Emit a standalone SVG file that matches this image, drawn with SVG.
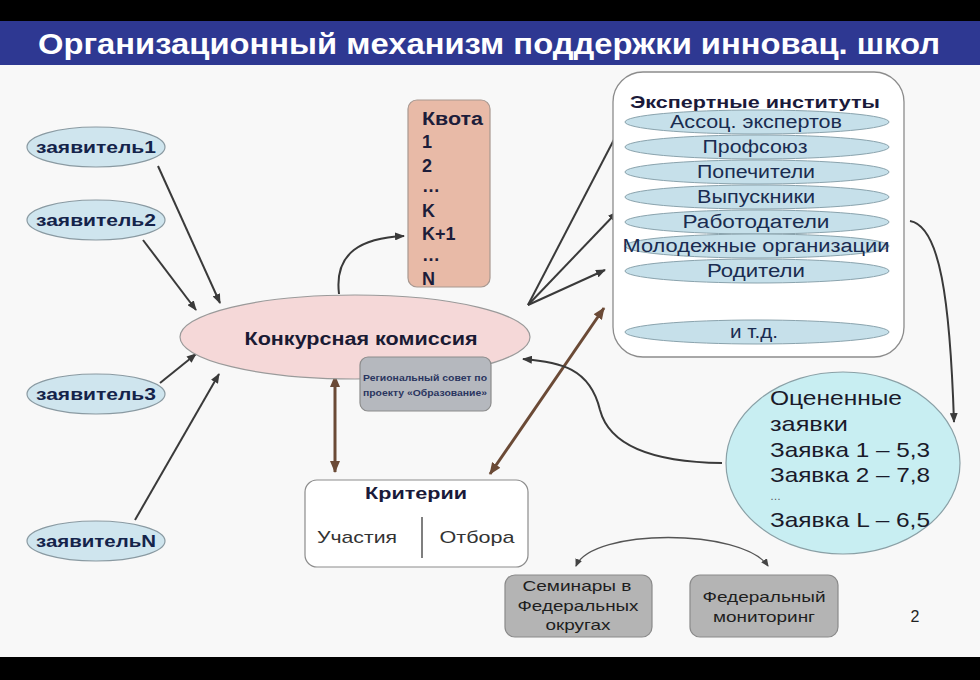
<svg xmlns="http://www.w3.org/2000/svg" width="980" height="680" viewBox="0 0 980 680">
<defs>
<marker id="ah" markerWidth="10" markerHeight="8" refX="9" refY="4" orient="auto" markerUnits="userSpaceOnUse"><path d="M0,0 L10,4 L0,8 Z" fill="#3a3a3a"/></marker>
<marker id="ahb" markerWidth="12" markerHeight="10" refX="11" refY="5" orient="auto" markerUnits="userSpaceOnUse"><path d="M0,0 L12,5 L0,10 Z" fill="#6b4a36"/></marker>
<marker id="ahbs" markerWidth="12" markerHeight="10" refX="1" refY="5" orient="auto" markerUnits="userSpaceOnUse"><path d="M12,0 L0,5 L12,10 Z" fill="#6b4a36"/></marker>
<marker id="ahs" markerWidth="8" markerHeight="7" refX="7" refY="3.5" orient="auto" markerUnits="userSpaceOnUse"><path d="M0,0 L8,3.5 L0,7 Z" fill="#444"/></marker>
<marker id="ahss" markerWidth="8" markerHeight="7" refX="1" refY="3.5" orient="auto" markerUnits="userSpaceOnUse"><path d="M8,0 L0,3.5 L8,7 Z" fill="#444"/></marker>
</defs>
<style>
text{font-family:"Liberation Sans","DejaVu Sans",Arial,sans-serif;}
.app{fill:#cfe5ee;stroke:#8a9aa2;stroke-width:1.2;}
.appt{font-size:16.5px;font-weight:bold;fill:#14234a;text-anchor:middle;}
.exp{fill:#c6e0ea;stroke:#8aa3ad;stroke-width:1;}
.expt{font-size:18px;fill:#1a2c50;text-anchor:middle;}
.conn{fill:none;stroke:#3a3a3a;stroke-width:2;}
.brown{fill:none;stroke:#6b4a36;stroke-width:3;}
.gbox{fill:#b4b4b4;stroke:#8a8a8a;stroke-width:1.2;}
.gt{font-size:15px;fill:#1e1e1e;text-anchor:middle;}
.q{font-size:18px;font-weight:bold;fill:#1d1d3a;}
.oc{font-size:21px;fill:#1a1a2a;}
</style>
<rect x="0" y="0" width="980" height="680" fill="#f8f8f8"/>
<rect x="0" y="0" width="980" height="21" fill="#000"/>
<rect x="0" y="21" width="980" height="44" fill="#2e3892"/>
<rect x="0" y="657" width="980" height="23" fill="#000"/>
<text x="38" y="54" font-size="29" font-weight="bold" fill="#ffffff" textLength="902" lengthAdjust="spacingAndGlyphs">Организационный механизм поддержки инновац. школ</text>

<g id="connectors">
<line class="conn" x1="158" y1="166" x2="220" y2="303" marker-end="url(#ah)"/>
<line class="conn" x1="143" y1="240" x2="196" y2="310" marker-end="url(#ah)"/>
<line class="conn" x1="160" y1="383" x2="196" y2="354" marker-end="url(#ah)"/>
<line class="conn" x1="135" y1="520" x2="219" y2="374" marker-end="url(#ah)"/>
<path class="conn" d="M339,294 C334,252 362,238 404,236" marker-end="url(#ah)"/>
<line class="conn" x1="528" y1="305" x2="620" y2="128" marker-end="url(#ah)"/>
<line class="conn" x1="528" y1="305" x2="617" y2="212" marker-end="url(#ah)"/>
<line class="conn" x1="528" y1="305" x2="605" y2="270" marker-end="url(#ah)"/>
<line class="brown" x1="335" y1="376" x2="335" y2="472" marker-start="url(#ahbs)" marker-end="url(#ahb)"/>
<line class="brown" x1="604" y1="308" x2="490" y2="474" marker-start="url(#ahbs)" marker-end="url(#ahb)"/>
<path class="conn" d="M722,463 C640,462 608,440 600,410 C590,368 560,362 523,359" marker-end="url(#ah)"/>
<path class="conn" d="M910,221 C940,226 950,300 954,422" marker-end="url(#ah)"/>
<path fill="none" stroke="#555" stroke-width="1.3" d="M576,566 C592,528 742,528 768,566" marker-start="url(#ahss)" marker-end="url(#ahs)"/>
</g>

<g id="applicant1"><ellipse class="app" cx="96" cy="147" rx="69" ry="20"/><text class="appt" x="96" y="153" textLength="120" lengthAdjust="spacingAndGlyphs">заявитель1</text></g>
<g id="applicant2"><ellipse class="app" cx="96" cy="220" rx="69" ry="20"/><text class="appt" x="96" y="226" textLength="120" lengthAdjust="spacingAndGlyphs">заявитель2</text></g>
<g id="applicant3"><ellipse class="app" cx="96" cy="394" rx="69" ry="20"/><text class="appt" x="96" y="400" textLength="120" lengthAdjust="spacingAndGlyphs">заявитель3</text></g>
<g id="applicantN"><ellipse class="app" cx="96" cy="541" rx="69" ry="20"/><text class="appt" x="96" y="547" textLength="120" lengthAdjust="spacingAndGlyphs">заявительN</text></g>

<g id="commission"><ellipse cx="355" cy="337" rx="175" ry="42" fill="#f5d8d8" stroke="#9a9a9a" stroke-width="1.2"/><text x="361" y="345" font-size="18" font-weight="bold" fill="#1a1a33" text-anchor="middle" textLength="233" lengthAdjust="spacingAndGlyphs">Конкурсная комиссия</text></g>

<g id="quota">
<rect x="408" y="100" width="82" height="187" rx="9" fill="#e8baa7" stroke="#a89890" stroke-width="1.2"/>
<text class="q" x="422" y="125" textLength="61" lengthAdjust="spacingAndGlyphs">Квота</text>
<text class="q" x="422" y="148">1</text>
<text class="q" x="422" y="172">2</text>
<text class="q" x="422" y="192">…</text>
<text class="q" x="422" y="217">K</text>
<text class="q" x="422" y="240">K+1</text>
<text class="q" x="422" y="261">…</text>
<text class="q" x="422" y="285">N</text>
</g>

<g id="regional-council">
<rect x="360" y="357" width="131" height="54" rx="8" fill="#b5b8be" stroke="#8c8c8c" stroke-width="1.2"/>
<text x="425" y="381" font-size="8.5" font-weight="bold" fill="#2a3560" text-anchor="middle" textLength="124" lengthAdjust="spacingAndGlyphs">Региональный совет по</text>
<text x="425" y="396" font-size="8.5" font-weight="bold" fill="#2a3560" text-anchor="middle" textLength="124" lengthAdjust="spacingAndGlyphs">проекту «Образование»</text>
</g>

<g id="expert-institutes">
<rect x="613" y="72" width="291" height="285" rx="30" fill="#ffffff" stroke="#8c8c8c" stroke-width="1.3"/>
<text x="755" y="108" font-size="17" font-weight="bold" fill="#1a1a3a" text-anchor="middle" textLength="250" lengthAdjust="spacingAndGlyphs">Экспертные институты</text>
<ellipse class="exp" cx="757" cy="122" rx="132" ry="12"/><text class="expt" x="756" y="128" textLength="172" lengthAdjust="spacingAndGlyphs">Ассоц. экспертов</text>
<ellipse class="exp" cx="757" cy="147" rx="132" ry="12"/><text class="expt" x="755" y="153" textLength="105" lengthAdjust="spacingAndGlyphs">Профсоюз</text>
<ellipse class="exp" cx="757" cy="172" rx="132" ry="12"/><text class="expt" x="756" y="178" textLength="118" lengthAdjust="spacingAndGlyphs">Попечители</text>
<ellipse class="exp" cx="757" cy="197" rx="132" ry="12"/><text class="expt" x="756" y="203" textLength="118" lengthAdjust="spacingAndGlyphs">Выпускники</text>
<ellipse class="exp" cx="757" cy="222" rx="132" ry="12"/><text class="expt" x="756" y="228" textLength="147" lengthAdjust="spacingAndGlyphs">Работодатели</text>
<ellipse class="exp" cx="757" cy="246" rx="132" ry="12"/><text class="expt" x="756" y="252" textLength="267" lengthAdjust="spacingAndGlyphs">Молодежные организации</text>
<ellipse class="exp" cx="757" cy="271" rx="132" ry="12"/><text class="expt" x="756" y="277" textLength="98" lengthAdjust="spacingAndGlyphs">Родители</text>
<ellipse class="exp" cx="757" cy="332" rx="132" ry="12"/><text class="expt" x="754" y="338" textLength="48" lengthAdjust="spacingAndGlyphs">и т.д.</text>
</g>

<g id="evaluated">
<ellipse cx="843" cy="463" rx="117" ry="91" fill="#c8eef2" stroke="#8aa0a6" stroke-width="1.2"/>
<text class="oc" x="770" y="405" textLength="132" lengthAdjust="spacingAndGlyphs">Оцененные</text>
<text class="oc" x="770" y="431" textLength="78" lengthAdjust="spacingAndGlyphs">заявки</text>
<text class="oc" x="770" y="457" textLength="160" lengthAdjust="spacingAndGlyphs">Заявка 1 – 5,3</text>
<text class="oc" x="770" y="482" textLength="160" lengthAdjust="spacingAndGlyphs">Заявка 2 – 7,8</text>
<text x="770" y="500" font-size="11" fill="#555">…</text>
<text class="oc" x="770" y="527" textLength="160" lengthAdjust="spacingAndGlyphs">Заявка L – 6,5</text>
</g>

<g id="criteria">
<rect x="305" y="480" width="223" height="87" rx="12" fill="#ffffff" stroke="#8c8c8c" stroke-width="1.2"/>
<text x="416" y="499" font-size="17" font-weight="bold" fill="#1a1a3a" text-anchor="middle" textLength="102" lengthAdjust="spacingAndGlyphs">Критерии</text>
<line x1="422" y1="517" x2="422" y2="558" stroke="#555" stroke-width="1.5"/>
<text x="357" y="543" font-size="17" fill="#333" text-anchor="middle" textLength="80" lengthAdjust="spacingAndGlyphs">Участия</text>
<text x="477" y="543" font-size="17" fill="#333" text-anchor="middle" textLength="75" lengthAdjust="spacingAndGlyphs">Отбора</text>
</g>

<g id="seminars">
<rect class="gbox" x="505" y="575" width="147" height="62" rx="10"/>
<text class="gt" x="577" y="591" textLength="109" lengthAdjust="spacingAndGlyphs">Семинары в</text>
<text class="gt" x="578" y="611" textLength="121" lengthAdjust="spacingAndGlyphs">Федеральных</text>
<text class="gt" x="578" y="630" textLength="65" lengthAdjust="spacingAndGlyphs">округах</text>
</g>
<g id="monitoring">
<rect class="gbox" x="690" y="575" width="148" height="62" rx="10"/>
<text class="gt" x="764" y="602" textLength="123" lengthAdjust="spacingAndGlyphs">Федеральный</text>
<text class="gt" x="764" y="622" textLength="102" lengthAdjust="spacingAndGlyphs">мониторинг</text>
</g>
<text x="915" y="622" font-size="16" fill="#222" text-anchor="middle">2</text>
</svg>
